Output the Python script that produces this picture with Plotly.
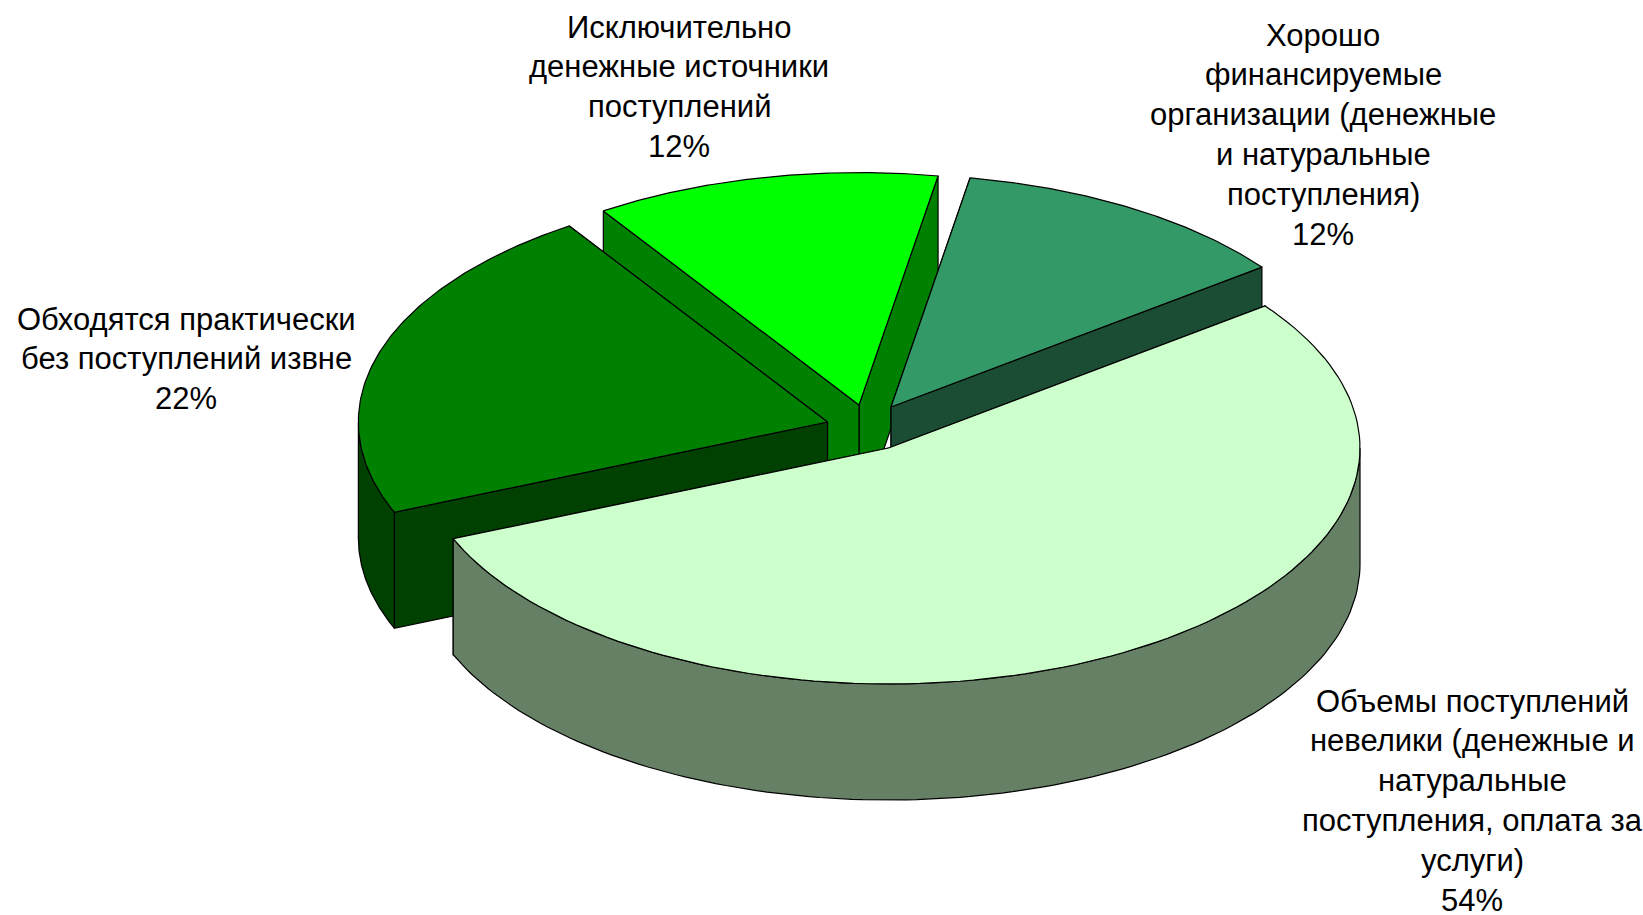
import math
import plotly.graph_objects as go

# Data
categories = [
    "Объемы поступлений невелики (денежные и натуральные поступления, оплата за услуги)",
    "Обходятся практически без поступлений извне",
    "Исключительно денежные источники поступлений",
    "Хорошо финансируемые организации (денежные и натуральные поступления)",
]
shares = [54, 22, 12, 12]
label_lines = [
    ["Объемы поступлений", "невелики (денежные и", "натуральные", "поступления, оплата за", "услуги)"],
    ["Обходятся практически", "без поступлений извне"],
    ["Исключительно", "денежные источники", "поступлений"],
    ["Хорошо", "финансируемые", "организации (денежные", "и натуральные", "поступления)"],
]
top_colors = ["#CCFFCC", "#008000", "#00FF00", "#339966"]
wall_colors = ["#668066", "#004000", "#008000", "#1A4D33"]

# Layout of the drawing, in page pixels
W, H = 1643, 915
CX, CY, RX, RY, DEPTH = 888.5, 448.0, 471.5, 236.0, 116.0
START_DEG = 37.0
offsets = [(0, 0), (-61, -26), (-29.5, -43), (2.5, -41)]
radius_scale = [1.0, 0.995, 0.985, 0.985]
label_x = [1472, 186, 679, 1323]
label_y0 = [701, 319, 27, 35]
LINE_H = 39.8
paint_order = [2, 3, 1, 0]

# Slice angles follow from the shares, running clockwise
total = sum(shares)
spans = []
a = START_DEG
for s in shares:
    b = a - 360.0 * s / total
    spans.append((a, b))
    a = b


def arc(cx, cy, a0, a1, k, n=120):
    pts = []
    for i in range(n + 1):
        t = math.radians(a0 + (a1 - a0) * i / n)
        pts.append((cx + k * RX * math.cos(t), cy - k * RY * math.sin(t)))
    return pts


def poly(fig, pts, color):
    fig.add_trace(go.Scatter(
        x=[p[0] for p in pts] + [pts[0][0]],
        y=[p[1] for p in pts] + [pts[0][1]],
        mode="lines", fill="toself", fillcolor=color,
        line=dict(color="#000000", width=1.2),
        hoverinfo="skip", showlegend=False,
    ))


def front_ranges(a0, a1):
    """Parts of a clockwise span where the rim faces the viewer (sin < 0)."""
    out = []
    for k in range(-2, 2):
        lo, hi = -180 + 360 * k, 0 + 360 * k
        s, e = max(a1, lo), min(a0, hi)
        if e > s:
            out.append((e, s))
    return out


fig = go.Figure()
for idx in paint_order:
    a0, a1 = spans[idx]
    ox, oy = offsets[idx]
    k = radius_scale[idx]
    cx, cy = CX + ox, CY + oy
    # back cut face first, so the front one covers it
    for ang in sorted((a0, a1), key=lambda d: -math.sin(math.radians(d))):
        r = math.radians(ang)
        ex, ey = cx + k * RX * math.cos(r), cy - k * RY * math.sin(r)
        poly(fig, [(cx, cy), (ex, ey), (ex, ey + DEPTH), (cx, cy + DEPTH)], wall_colors[idx])
    for e, s in front_ranges(a0, a1):
        rim = arc(cx, cy, e, s, k)
        poly(fig, rim + [(x, y + DEPTH) for x, y in reversed(rim)], wall_colors[idx])
    poly(fig, [(cx, cy)] + arc(cx, cy, a0, a1, k), top_colors[idx])

annotations = []
for idx, lines in enumerate(label_lines):
    for j, text in enumerate(lines + [f"{shares[idx]}%"]):
        annotations.append(dict(
            x=label_x[idx], y=label_y0[idx] + j * LINE_H, text=text,
            showarrow=False, xanchor="center", yanchor="middle",
            font=dict(family="Liberation Sans", size=31, color="#000000"),
        ))

fig.update_layout(
    width=W, height=H, margin=dict(l=0, r=0, t=0, b=0),
    paper_bgcolor="#FFFFFF", plot_bgcolor="#FFFFFF",
    xaxis=dict(range=[0, W], visible=False, fixedrange=True),
    yaxis=dict(range=[H, 0], visible=False, fixedrange=True),
    annotations=annotations, showlegend=False,
)
fig.write_html(
    "out.html",
    config={"displayModeBar": False},
    post_script="document.body.style.margin='0';document.documentElement.style.overflow='hidden';",
)
